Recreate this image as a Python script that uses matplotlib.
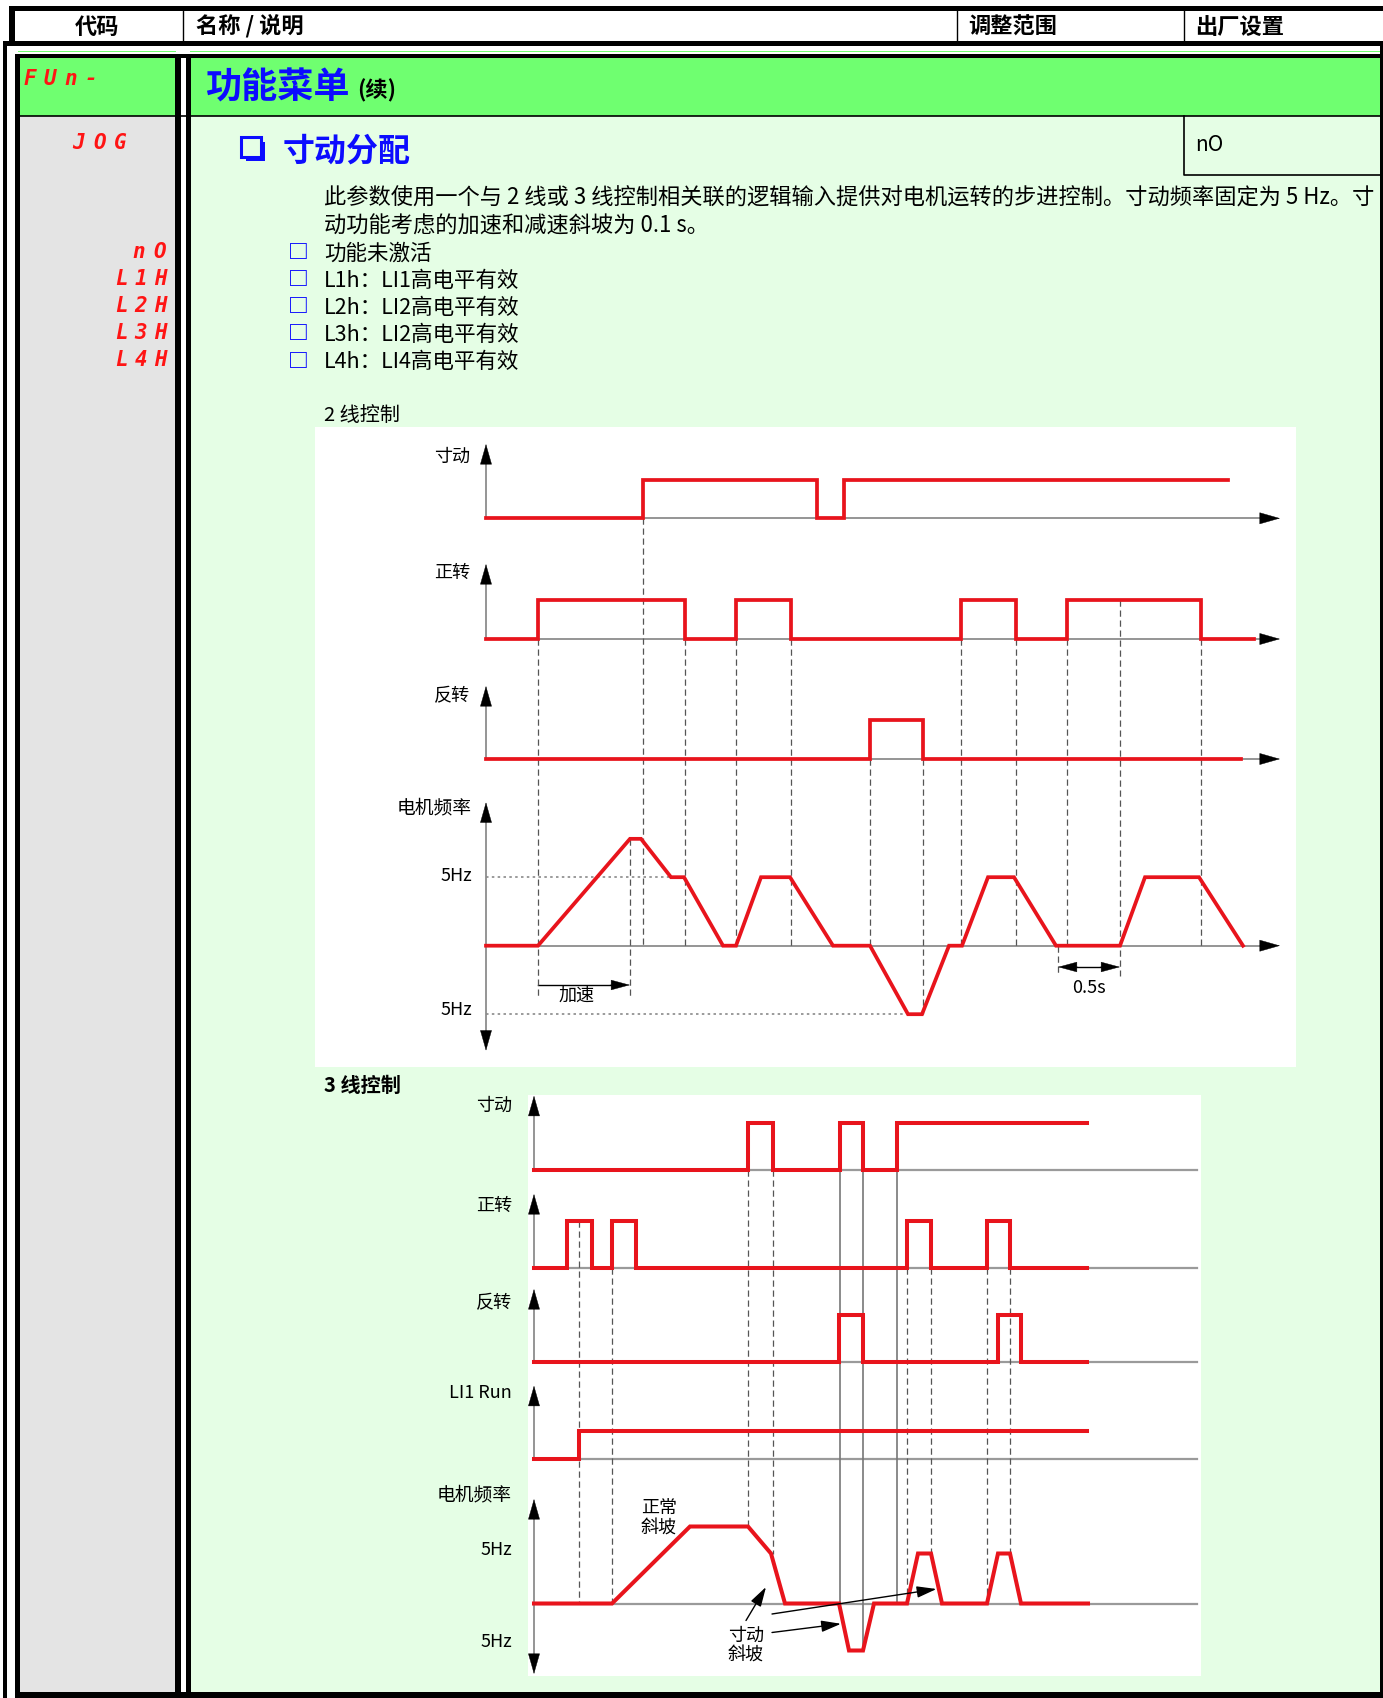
import matplotlib
matplotlib.use("Agg")
import matplotlib.pyplot as plt
import numpy as np
from matplotlib.patches import Rectangle

plt.rcParams['font.family'] = ['Noto Sans CJK SC', 'DejaVu Sans']

W, H = 1383, 1699

# ---------------- texts ----------------
header_cols = ['代码', '名称 / 说明', '调整范围', '出厂设置']
menu_code = 'FUn-'
menu_title = '功能菜单'
menu_cont = '(续)'
param_code = 'JOG'
param_name = '寸动分配'
param_default = 'nO'
param_desc = ['此参数使用一个与 2 线或 3 线控制相关联的逻辑输入提供对电机运转的步进控制。寸动频率固定为 5 Hz。寸',
              '动功能考虑的加速和减速斜坡为 0.1 s。']
option_codes = ['nO', 'L1H', 'L2H', 'L3H', 'L4H']
option_texts = ['功能未激活', 'L1h：LI1高电平有效', 'L2h：LI2高电平有效',
                'L3h：LI2高电平有效', 'L4h：LI4高电平有效']

# ---------------- 2-wire timing data (time unit = 10 px of drawing) ----------------
jog2_edges = [15.7, 33.1, 35.8]
jog2_end = 74.2
fwd2_edges = [5.2, 19.9, 25.0, 30.5, 47.5, 53.0, 58.1, 71.5]
fwd2_end = 76.8
rev2_edges = [38.4, 43.7]
rev2_end = 75.5
freq2_t = [0, 5.2, 14.4, 15.5, 18.5, 19.8, 23.7, 25.0, 27.5, 30.4, 34.7, 38.4,
           42.2, 43.6, 46.3, 47.6, 50.2, 52.8, 57.0, 63.4, 65.9, 71.3, 75.7]
freq2_hz = [0, 0, 7.8, 7.8, 5, 5, 0, 0, 5, 5, 0, 0,
            -5, -5, 0, 0, 5, 5, 0, 0, 5, 5, 0]
guides2_t = [5.2, 14.4, 15.7, 19.9, 25.0, 30.5, 38.4, 43.7, 47.5, 53.0, 57.2, 58.1, 63.4, 71.5]
guides2_from = ['fwd', 'peak', 'jog', 'fwd', 'fwd', 'fwd', 'rev', 'rev', 'fwd', 'fwd', 'zero', 'fwd', 'fwd_hi', 'fwd']
guides2_to = ['acc', 'acc', 'zero', 'zero', 'zero', 'zero', 'zero', 'neg', 'zero', 'zero', 'gap', 'zero', 'gap', 'zero']
accel_span = (5.2, 14.4)
gap_span = (57.2, 63.4)

# ---------------- 3-wire timing data ----------------
jog3_edges = [21.4, 23.9, 30.6, 32.9, 36.3]
fwd3_edges = [3.3, 5.8, 7.8, 10.2, 37.3, 39.7, 45.3, 47.6]
rev3_edges = [30.5, 32.9, 46.4, 48.7]
run3_edges = [4.5]
sig3_end = 55.3
freq3_t = [0, 7.8, 15.6, 21.4, 23.7, 25.1, 30.5, 31.5, 32.9, 34.0, 37.3, 38.4,
           39.7, 40.8, 45.3, 46.4, 47.6, 48.7, 55.4]
freq3_hz = [0, 0, 7.7, 7.7, 5, 0, 0, -4.7, -4.7, 0, 0, 5,
            5, 0, 0, 5, 5, 0, 0]
guides3_t = [4.5, 7.8, 21.4, 23.9, 30.6, 32.9, 36.3, 37.3, 39.7, 45.3, 47.6]
guides3_from = ['fwd_hi', 'fwd', 'jog', 'jog', 'jog', 'jog', 'jog', 'fwd', 'fwd', 'fwd', 'fwd']
guides3_to = ['zero', 'zero', 'top', 'hz5', 'zero', 'neg', 'zero', 'zero', 'hz5', 'zero', 'hz5']
guides3_solid = [False, False, False, False, True, True, True, False, False, False, False]

# ---------------- styles ----------------
GREEN = '#6fff70'
PALE = '#e5fee5'
GREY = '#e4e4e4'
BLUE = '#0c0cff'
SEG = '#ff1414'
SIG = '#e8141c'
AXC = '#8c8c8c'
PX = 10.0


def square(edges, end, level=0):
    t, v = [0.0], [level]
    for e in edges:
        t += [e, e]
        v += [level, 1 - level]
        level = 1 - level
    t.append(end)
    v.append(level)
    return np.array(t), np.array(v)


def head(ax, x, y, tx, ty, hl=1.4, hw=0.4):
    ax.annotate('', xy=(x, y), xytext=(tx, ty), annotation_clip=False,
                arrowprops=dict(arrowstyle=f'-|>,head_length={hl},head_width={hw}',
                                color='black', lw=0.3, shrinkA=0, shrinkB=0))


fig = plt.figure(figsize=(W / 100, H / 100), dpi=100)
page = fig.add_axes([0, 0, 1, 1])
page.set_xlim(0, W)
page.set_ylim(H, 0)
page.set_axis_off()


def box(x0, y0, x1, y1, color, z=1, edge='none', lw=0):
    page.add_patch(Rectangle((x0, y0), x1 - x0, y1 - y0, facecolor=color,
                             edgecolor=edge, lw=lw, zorder=z))


def seg_text(x_first, y, s, pitch=20.5):
    # seven-segment style display code, one character per cell
    for i, ch in enumerate(s):
        page.text(x_first + i * pitch, y, ch, ha='center', va='center', fontsize=15,
                  color=SEG, family='DejaVu Sans Mono', fontweight='bold', style='italic')


# header row
box(9, 7, W, 12, 'k')
box(9, 7, 15, 44, 'k')
box(4, 41.5, W, 46.5, 'k')
for x in (182.5, 957, 1183.5):
    page.plot([x, x], [12, 41.5], color='k', lw=1)
page.text(97, 27, header_cols[0], ha='center', va='center', fontsize=16, fontweight='bold')
for x, s in zip((196, 968, 1195), header_cols[1:]):
    page.text(x, 27, s, ha='left', va='center', fontsize=16, fontweight='bold')

# body frame
box(20, 57, 175, 117, GREEN)
box(20, 117, 175, 1693, GREY)
box(191, 57, 1380, 117, GREEN)
box(191, 117, 1380, 1693, PALE)
box(17.6, 51.7, 176, 53.3, GREEN)
box(190, 51.7, W, 53.3, GREEN)
box(15, 55, 1380, 59, 'k', 3)
box(3, 42, 7, H, 'k', 3)
box(15, 55, 20, 1693, 'k', 3)
box(175, 55, 181, 1693, 'k', 3)
box(186, 55, 191, 1693, 'k', 3)
box(1380, 42, W, H, 'k', 3)
box(15, 1693, W, H, 'k', 3)
page.plot([20, 1380], [117, 117], color='k', lw=1.2, zorder=3)
page.plot([1184.3, 1184.3, 1380], [117, 176, 176], color='k', lw=1.2, zorder=3)

# menu title row
seg_text(29.5, 79, menu_code, pitch=20.5)
page.text(205, 88, menu_title, ha='left', va='center', fontsize=26, color=BLUE, fontweight='bold')
page.text(357, 91, menu_cont, ha='left', va='center', fontsize=16, fontweight='bold')

# parameter (drop-shadowed square bullet + name)
box(245.5, 142.5, 265, 162, BLUE, 4)
box(241, 138, 260.5, 157.5, PALE, 5, edge=BLUE, lw=2.2)
page.text(283, 152, param_name, ha='left', va='center', fontsize=23, color=BLUE, fontweight='bold')
seg_text(79, 143, param_code, pitch=20.5)
page.text(1195, 145, param_default, ha='left', va='center', fontsize=15)
for i, s in enumerate(param_desc):
    page.text(324, 198 + 28.5 * i, s, ha='left', va='center', fontsize=16)
for i, (c, s) in enumerate(zip(option_codes, option_texts)):
    y = 253.6 + 27.1 * i
    pitch = 21 if len(c) == 2 else 19
    seg_text(160 - (len(c) - 1) * pitch, y - 1.5, c, pitch=pitch)
    page.text(298, y - 1, '□', ha='center', va='center', fontsize=15, color=BLUE, fontweight='bold')
    page.text(324, y, s, ha='left', va='center', fontsize=15.5)

page.text(324, 416, '2 线控制', ha='left', va='center', fontsize=14.5)
page.text(324, 1085, '3 线控制', ha='left', va='center', fontsize=14.5, fontweight='bold')

# white diagram backgrounds
box(315.4, 428, 1295.5, 1068, 'white', 2)
box(528, 1096, 1201, 1677, 'white', 2)


def diagram(x0, y0, x1, y1, origin):
    ax = fig.add_axes([x0 / W, 1 - y1 / H, (x1 - x0) / W, (y1 - y0) / H])
    ax.set_xlim((x0 - origin) / PX, (x1 - origin) / PX)
    ax.set_ylim(y1, y0)
    ax.set_axis_off()
    return ax


# ================= 2-wire diagram =================
ax2 = diagram(315.4, 428, 1295.5, 1068, 486)
X2_END = 79.4
rows2 = {'jog': (519.3, 38.6, 445, 456.7, '寸动', jog2_edges, jog2_end),
         'fwd': (640.0, 39.3, 565, 573, '正转', fwd2_edges, fwd2_end),
         'rev': (760.0, 39.3, 687, 696, '反转', rev2_edges, rev2_end)}
for key, (base, h, tip, ly, lab, edges, end) in rows2.items():
    ax2.plot([0, X2_END - 1.5], [base, base], color=AXC, lw=1.3)
    ax2.plot([0, 0], [base, tip + 15], color=AXC, lw=1.3)
    head(ax2, 0, tip, 0, tip + 20)
    head(ax2, X2_END, base, X2_END - 2, base)
    t, v = square(edges, end)
    ax2.plot(t, base - v * h, color=SIG, lw=2.7, solid_joinstyle='miter', zorder=4)
    ax2.text(-1.6, ly, lab, ha='right', va='center', fontsize=13)

F2_BASE, F2_SCALE = 946.7, 13.7
ax2.plot([0, X2_END - 1.5], [F2_BASE, F2_BASE], color=AXC, lw=1.3)
ax2.plot([0, 0], [818, 1037], color=AXC, lw=1.3)
head(ax2, 0, 803.3, 0, 823.3)
head(ax2, 0, 1051.7, 0, 1031.7)
head(ax2, X2_END, F2_BASE, X2_END - 2, F2_BASE)
ax2.plot(freq2_t, F2_BASE - np.array(freq2_hz) * F2_SCALE, color=SIG, lw=2.7,
         solid_joinstyle='miter', zorder=4)
ax2.text(-1.4, 808, '电机频率', ha='right', va='center', fontsize=13.5)
ax2.text(-1.4, 876, '5Hz', ha='right', va='center', fontsize=13)
ax2.text(-1.4, 1010, '5Hz', ha='right', va='center', fontsize=13)
ax2.hlines(F2_BASE - 5 * F2_SCALE, 0, 19.7, colors='#8a8a8a', linestyles=(0, (1.5, 2)), lw=1.2)
ax2.hlines(F2_BASE + 5 * F2_SCALE, 0, 42.0, colors='#8a8a8a', linestyles=(0, (1.5, 2)), lw=1.2)

ACC_Y, GAP_Y = 986, 968
ylev2 = {'jog': 519.3, 'fwd': 640.0, 'rev': 760.0, 'fwd_hi': 600.7, 'zero': F2_BASE,
         'peak': F2_BASE - 7.8 * F2_SCALE, 'neg': F2_BASE + 5 * F2_SCALE,
         'acc': ACC_Y + 14, 'gap': GAP_Y + 9}
for t, a, b in zip(guides2_t, guides2_from, guides2_to):
    ax2.plot([t, t], [ylev2[a], ylev2[b]], color='#555555', lw=0.9, ls=(0, (5, 3)), zorder=3)
ax2.plot([accel_span[0], accel_span[1] - 1.5], [ACC_Y, ACC_Y], color='k', lw=1)
head(ax2, accel_span[1], ACC_Y, accel_span[1] - 2, ACC_Y, hl=1.3, hw=0.35)
ax2.text(sum(accel_span) / 2 - 0.7, 996, '加速', ha='center', va='center', fontsize=13)
ax2.plot([gap_span[0] + 1.5, gap_span[1] - 1.5], [GAP_Y, GAP_Y], color='k', lw=1)
head(ax2, gap_span[0], GAP_Y, gap_span[0] + 2, GAP_Y, hl=1.3, hw=0.35)
head(ax2, gap_span[1], GAP_Y, gap_span[1] - 2, GAP_Y, hl=1.3, hw=0.35)
ax2.text(sum(gap_span) / 2, 988, '0.5s', ha='center', va='center', fontsize=13)

# ================= 3-wire diagram =================
ax3 = diagram(528, 1096, 1201, 1677, 534)
X3_END = 66.3
rows3 = {'jog': (1170.7, 46.7, 1096.7, 1106, '寸动', jog3_edges),
         'fwd': (1269.0, 47.3, 1195, 1206, '正转', fwd3_edges),
         'rev': (1363.3, 47.3, 1290, 1303, '反转', rev3_edges),
         'run': (1460.0, 28.3, 1386.7, 1393, 'LI1 Run', run3_edges)}
for key, (base, h, tip, ly, lab, edges) in rows3.items():
    ax3.plot([0, X3_END], [base, base], color='#9a9a9a', lw=1.6)
    ax3.plot([0, 0], [base, tip + 15], color=AXC, lw=1.3)
    head(ax3, 0, tip, 0, tip + 20)
    t, v = square(edges, sig3_end)
    ax3.plot(t, base - v * h, color=SIG, lw=2.9, solid_joinstyle='miter', zorder=4)
    ax3.text(-2.2, ly, lab, ha='right', va='center', fontsize=13)

F3_BASE, F3_SCALE = 1604.5, 10.0
ax3.plot([0, X3_END], [F3_BASE, F3_BASE], color='#9a9a9a', lw=1.6)
ax3.plot([0, 0], [1515, 1660], color=AXC, lw=1.3)
head(ax3, 0, 1500, 0, 1520)
head(ax3, 0, 1675, 0, 1655)
ax3.plot(freq3_t, F3_BASE - np.array(freq3_hz) * F3_SCALE, color=SIG, lw=2.9,
         solid_joinstyle='miter', zorder=4)
ax3.text(-2.2, 1495, '电机频率', ha='right', va='center', fontsize=13.5)
ax3.text(-2.2, 1550, '5Hz', ha='right', va='center', fontsize=13)
ax3.text(-2.2, 1642, '5Hz', ha='right', va='center', fontsize=13)

ylev3 = {'jog': 1170.7, 'fwd': 1269.0, 'fwd_hi': 1221.7, 'zero': F3_BASE,
         'top': F3_BASE - 7.7 * F3_SCALE, 'hz5': F3_BASE - 5 * F3_SCALE,
         'neg': F3_BASE + 4.7 * F3_SCALE}
for t, a, b, solid in zip(guides3_t, guides3_from, guides3_to, guides3_solid):
    if solid:
        ax3.plot([t, t], [ylev3[a], ylev3[b]], color='#777777', lw=1.2, zorder=3)
    else:
        ax3.plot([t, t], [ylev3[a], ylev3[b]], color='#555555', lw=0.9, ls=(0, (5, 3)), zorder=3)

ax3.text(12.5, 1519, '正常\n斜坡', ha='center', va='center', fontsize=13, linespacing=1.1)
ax3.text(21.2, 1646, '寸动\n斜坡', ha='center', va='center', fontsize=13, linespacing=1.1)
for (sx, sy), (ex, ey) in [((21.2, 1621.5), (23.2, 1588)),
                           ((23.8, 1615), (40.25, 1590)),
                           ((23.8, 1633.5), (30.7, 1624.8))]:
    ax3.annotate('', xy=(ex, ey), xytext=(sx, sy), zorder=5,
                 arrowprops=dict(arrowstyle='-|>,head_length=1.2,head_width=0.35',
                                 color='black', lw=1, shrinkA=0, shrinkB=0))

fig.savefig('out.png', dpi=100)
